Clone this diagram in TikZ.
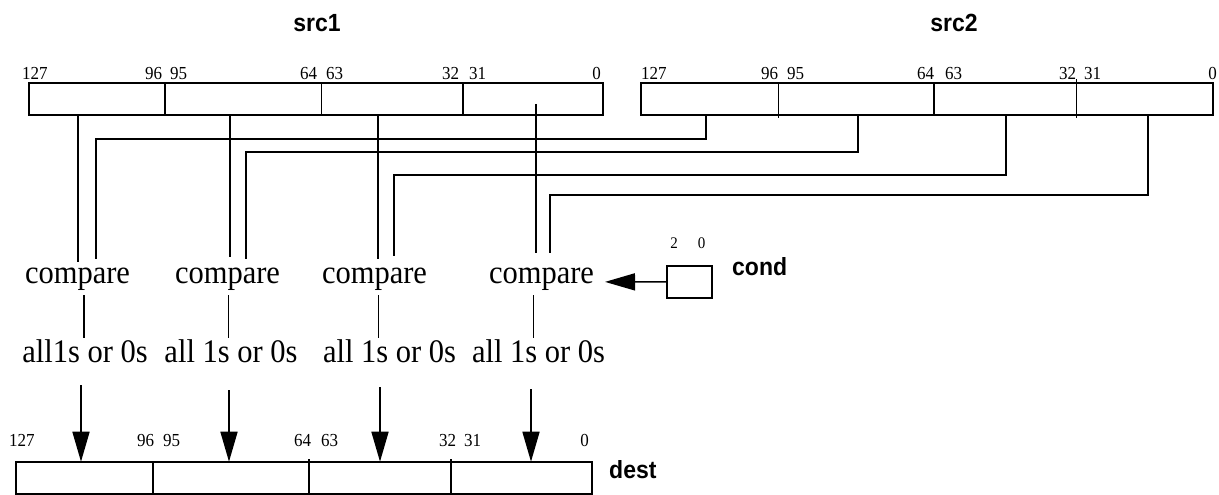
\documentclass[tikz,border=0pt]{standalone}
\usepackage{fontspec}
\usepackage{graphicx}
\setmainfont{Liberation Serif}
\newfontfamily\hsans{Liberation Sans}
\usetikzlibrary{arrows.meta}
\newcommand{\vst}[1]{\scalebox{1}[1.08]{#1}}
\tikzset{
  wire/.style={line width=1.7pt},
  regbox/.style={draw, line width=1.7pt, inner sep=0, outer sep=0, anchor=north west},
  cmptext/.style={inner sep=0, anchor=base, font=\fontsize{30.5}{36}\selectfont},
  bitl/.style={inner sep=0, anchor=base west, font=\fontsize{17}{20}\selectfont},
  bitr/.style={inner sep=0, anchor=base east, font=\fontsize{17}{20}\selectfont},
  condl/.style={inner sep=0, anchor=base, font=\fontsize{15}{18}\selectfont},
  title/.style={inner sep=0, font=\hsans\bfseries\fontsize{23}{28}\selectfont},
  bigarrow/.style={line width=1.7pt, -{Triangle[length=30pt,width=17pt]}},
}
\begin{document}
\begin{tikzpicture}[x=1pt,y=-1pt]
\useasboundingbox (0,0) rectangle (1219,495);

% titles
\node[title, anchor=base] (t1) at (317,31.7) {\vst{src1}};
\node[title, anchor=base] (t2) at (954,31.7) {\vst{src2}};
\node[title, anchor=base west] (td) at (609,478) {\vst{dest}};
\node[title, anchor=base west] (tc) at (732,275) {\vst{cond}};

% registers
\node[regbox, minimum width=574pt, minimum height=32.3pt] (s1) at (29,82.7) {};
\node[regbox, minimum width=572pt, minimum height=32.3pt] (s2) at (641,82.7) {};
\node[regbox, minimum width=576pt, minimum height=32.3pt] (d) at (16,461.7) {};
\node[regbox, minimum width=44.4pt, minimum height=31.7pt] (cond) at (667.3,266) {};

% dividers
\draw[wire] (165,82.7) -- (165,115);
\draw[wire] (321.5,82.7) -- (321.5,115);
\draw[wire] (462.7,82.7) -- (462.7,115);
\draw[wire] (778.5,82.7) -- (778.5,118);
\draw[wire] (934,82.7) -- (934,115);
\draw[wire] (1076.5,79.5) -- (1076.5,118);
\draw[wire] (153,461.7) -- (153,494);
\draw[wire] (309,459) -- (309,494);
\draw[wire] (451,459) -- (451,494);

% bit labels src1
\node[bitl] (a127) at (22,80) {\vst{127}};
\node[bitl] (a96) at (145,80) {\vst{96}};
\node[bitl] (a95) at (170,80) {\vst{95}};
\node[bitl] (a64) at (300,80) {\vst{64}};
\node[bitl] (a63) at (326,80) {\vst{63}};
\node[bitl] (a32) at (442,80) {\vst{32}};
\node[bitl] (a31) at (469,80) {\vst{31}};
\node[bitr] (a0) at (601,80) {\vst{0}};
% bit labels src2
\node[bitl] (b127) at (641,80) {\vst{127}};
\node[bitl] (b96) at (761,80) {\vst{96}};
\node[bitl] (b95) at (787,80) {\vst{95}};
\node[bitl] (b64) at (917,80) {\vst{64}};
\node[bitl] (b63) at (945,80) {\vst{63}};
\node[bitl] (b32) at (1059,80) {\vst{32}};
\node[bitl] (b31) at (1084,80) {\vst{31}};
\node[bitr] (b0) at (1217,80) {\vst{0}};
% bit labels dest
\node[bitl] (c127) at (9,446) {\vst{127}};
\node[bitl] (c96) at (137,446) {\vst{96}};
\node[bitl] (c95) at (163,446) {\vst{95}};
\node[bitl] (c64) at (294,446) {\vst{64}};
\node[bitl] (c63) at (321,446) {\vst{63}};
\node[bitl] (c32) at (439,446) {\vst{32}};
\node[bitl] (c31) at (464,446) {\vst{31}};
\node[bitr] (c0) at (589,446) {\vst{0}};
% cond labels
\node[condl] (k2) at (674,248) {\vst{2}};
\node[condl] (k0) at (701.7,248) {\vst{0}};

% compare and result texts
\node[cmptext] (cmp1) at (77.5,283) {\vst{compare}};
\node[cmptext] (cmp2) at (227.5,283) {\vst{compare}};
\node[cmptext] (cmp3) at (374.5,283) {\vst{compare}};
\node[cmptext] (cmp4) at (541.5,283) {\vst{compare}};
\node[cmptext] (res1) at (85,362) {\vst{all1s or 0s}};
\node[cmptext] (res2) at (231,362) {\vst{all 1s or 0s}};
\node[cmptext] (res3) at (389.5,362) {\vst{all 1s or 0s}};
\node[cmptext] (res4) at (538.5,362) {\vst{all 1s or 0s}};

% connection points
\coordinate (p1s) at (77.7,115);   \coordinate (p1e) at (77.7,261.5);
\coordinate (p2s) at (230,115);    \coordinate (p2e) at (230,256.5);
\coordinate (p3s) at (377.7,115);  \coordinate (p3e) at (377.7,259);
\coordinate (p4s) at (535.7,104);  \coordinate (p4e) at (535.7,253);
\coordinate (q1s) at (706,115);    \coordinate (q1e) at (95.7,259);
\coordinate (q2s) at (858,115);    \coordinate (q2e) at (245.7,259);
\coordinate (q3s) at (1005.8,115); \coordinate (q3e) at (393.7,255.7);
\coordinate (q4s) at (1148,115);   \coordinate (q4e) at (550,253);

% src1 lanes
\draw[wire] (p1s) -- (p1e);
\draw[wire] (p2s) -- (p2e);
\draw[wire] (p3s) -- (p3e);
\draw[wire] (p4s) -- (p4e);
% src2 lanes
\draw[wire] (q1s) |- (95.7,139) -- (q1e);
\draw[wire] (q2s) |- (245.7,152) -- (q2e);
\draw[wire] (q3s) |- (393.7,175.3) -- (q3e);
\draw[wire] (q4s) |- (550,195) -- (q4e);

% compare -> result
\coordinate (r1a) at (83.8,295);  \coordinate (r1b) at (83.8,338);
\coordinate (r2a) at (228.5,295); \coordinate (r2b) at (228.5,338);
\coordinate (r3a) at (378.6,295); \coordinate (r3b) at (378.6,338);
\coordinate (r4a) at (533.6,295); \coordinate (r4b) at (533.6,338);
\draw[wire] (r1a) -- (r1b);
\draw[wire] (r2a) -- (r2b);
\draw[wire] (r3a) -- (r3b);
\draw[wire] (r4a) -- (r4b);

% result -> dest
\coordinate (u1) at (81,385);
\coordinate (u2) at (229,390);
\coordinate (u3) at (380,387);
\coordinate (u4) at (531,389);
\draw[bigarrow] (u1) -- (u1 |- d.north);
\draw[bigarrow] (u2) -- (u2 |- d.north);
\draw[bigarrow] (u3) -- (u3 |- d.north);
\draw[bigarrow] (u4) -- (u4 |- d.north);

% cond -> compare
\coordinate (ctip) at (605,281.9);
\draw[bigarrow] (cond.west) -- (ctip);
\end{tikzpicture}
\end{document}
